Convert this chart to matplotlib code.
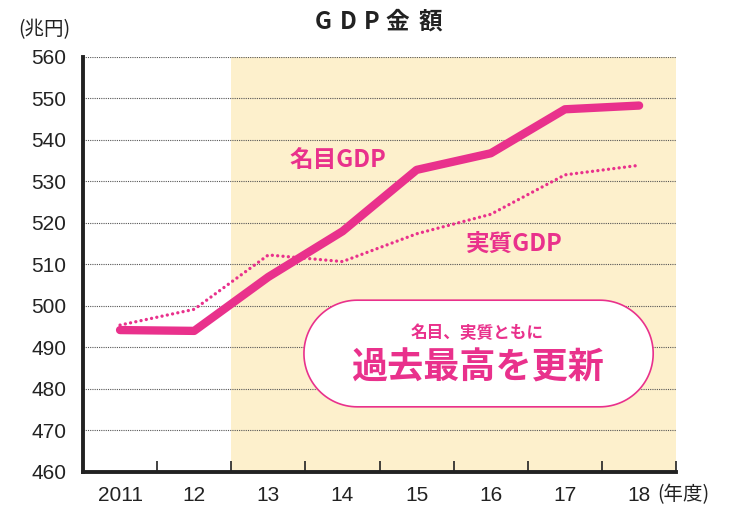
import numpy as np
import matplotlib.pyplot as plt
from matplotlib.patches import Polygon
from matplotlib.transforms import IdentityTransform

plt.rcParams['font.family'] = ['Liberation Sans', 'Noto Sans CJK JP', 'DejaVu Sans']
jp = ['Noto Sans CJK JP', 'DejaVu Sans']

# データ（兆円）
years = ['2011', '12', '13', '14', '15', '16', '17', '18']
nominal = [494.2, 494.0, 507.0, 518.0, 532.8, 536.8, 547.4, 548.3]
real = [495.4, 499.2, 512.3, 510.7, 517.4, 522.1, 531.6, 533.9]
y_ticks = [460, 470, 480, 490, 500, 510, 520, 530, 540, 550, 560]

pink = '#E9318C'
shade = '#FDF0CC'
ink = '#222222'

fig = plt.figure(figsize=(7.31, 5.08), dpi=100)
ax = fig.add_axes([0.1135, 0.0709, 0.8115, 0.8169])

x = np.arange(len(years))
ax.set_xlim(-0.5, len(years) - 0.5)
ax.set_ylim(460, 560)

# 背景の網掛け（2013年度以降）
ax.axvspan(1.5, len(years) - 0.5, color=shade, zorder=0, lw=0)

# 目盛り線
for v in y_ticks[1:]:
    ax.axhline(v, color='#555555', lw=0.8, ls=(0, (1, 1)), zorder=1)

ax.plot(x, nominal, color=pink, lw=6, solid_capstyle='round',
        solid_joinstyle='round', zorder=3)
ax.plot(x, real, color=pink, lw=2.4, ls=(0, (0.01, 1.6)), dash_capstyle='round', zorder=3)

ax.text(2.28, 535.2, '名目GDP', color=pink, fontsize=17, fontweight='bold',
        family=jp, ha='left', va='center')
ax.text(4.67, 514.9, '実質GDP', color=pink, fontsize=17, fontweight='bold',
        family=jp, ha='left', va='center')

# 吹き出し（両端が半円の枠）：データ座標の角をピクセルに変換して描く
(bx0, by0), (bx1, by1) = ax.transData.transform([(2.48, 475.7), (7.19, 501.4)])
r = (by1 - by0) / 2
cy = by0 + r
t = np.linspace(-np.pi / 2, np.pi / 2, 60)
right = np.column_stack([bx1 - r + r * np.cos(t), cy + r * np.sin(t)])
left = np.column_stack([bx0 + r - r * np.cos(t), cy - r * np.sin(t)])
box = Polygon(np.vstack([right, left]), closed=True, transform=IdentityTransform(),
              facecolor='white', edgecolor=pink, lw=1.2, zorder=4)
ax.add_artist(box)
ax.text(4.82, 493.5, '名目、実質ともに', color=pink, fontsize=12,
        fontweight='bold', family=jp, ha='center', va='center', zorder=5)
ax.text(4.82, 485.1, '過去最高を更新', color=pink, fontsize=26,
        fontweight='bold', family=jp, ha='center', va='center', zorder=5)

# 軸
ax.set_yticks(y_ticks)
ax.set_yticklabels([str(v) for v in y_ticks], fontsize=15, color=ink)
ax.set_xticks(np.arange(len(years)) + 0.5)
ax.set_xticklabels([])
ax.set_xticks(x, minor=True)
ax.set_xticklabels(years, minor=True, fontsize=15, color=ink)
ax.tick_params(axis='x', which='major', direction='in', length=8, width=1.2, color=ink)
ax.tick_params(axis='x', which='minor', length=0, pad=10)
ax.tick_params(axis='y', length=0, pad=12)

for s in ['top', 'right']:
    ax.spines[s].set_visible(False)
for s in ['left', 'bottom']:
    ax.spines[s].set_linewidth(2.8)
    ax.spines[s].set_color(ink)

ax.text(7.24, -0.055, '(年度)', transform=ax.get_xaxis_transform(), fontsize=14,
        family=jp, color=ink, ha='left', va='center')
fig.text(0.06, 0.941, '(兆円)', fontsize=14, family=jp, color=ink,
         ha='center', va='center')

# タイトル（字間を広げる）
title = 'GDP金額'
title_x = [323, 348, 372, 397, 430]
for ch, px in zip(title, title_x):
    fig.text(px / 731, 0.957, ch, fontsize=17, fontweight='bold', family=jp,
             color=ink, ha='center', va='center')

fig.savefig('out.png', dpi=100)
